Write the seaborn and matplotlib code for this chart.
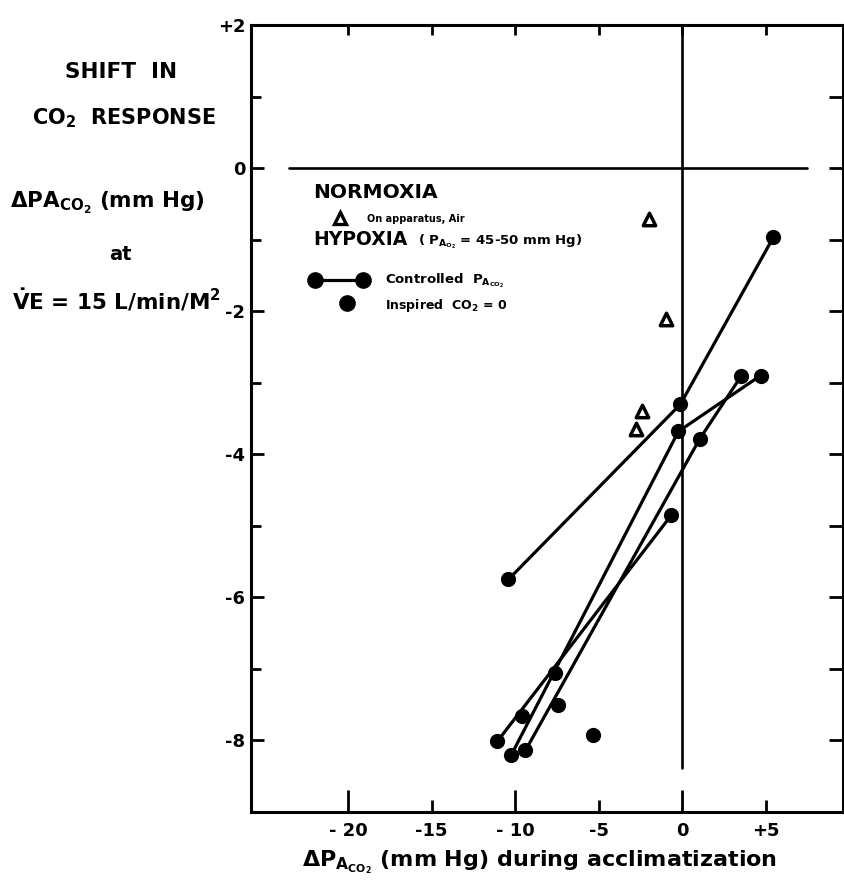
import matplotlib
matplotlib.use("Agg")
import matplotlib.pyplot as plt
import seaborn as sns
import pandas as pd
from matplotlib.ticker import FixedLocator
from matplotlib.lines import Line2D

# ---------------- data ----------------
# Hypoxia, controlled PaCO2: connected points per subject
ctrl_x = [-10.41, -0.12, 5.44, 4.67, -0.24, -10.23, 3.53, 1.02, -9.39, -0.66, -11.06]
ctrl_y = [-5.75, -3.30, -0.965, -2.90, -3.68, -8.20, -2.90, -3.79, -8.14, -4.85, -8.01]
ctrl_subject = ["A", "A", "A", "B", "B", "B", "C", "C", "C", "D", "D"]

# Hypoxia, inspired CO2 = 0 (unconnected points)
insp_x = [-7.60, -7.42, -9.57, -5.32]
insp_y = [-7.06, -7.50, -7.66, -7.93]

# Normoxia, on apparatus, air (triangles)
tri_x = [-2.03, -0.96, -2.39, -2.75]
tri_y = [-0.71, -2.11, -3.40, -3.64]

x_major = [-20, -10, 0]
x_major_labels = ["- 20", "- 10", "0"]
x_minor = [-15, -5, 5]
x_minor_labels = ["-15", "-5", "+5"]
y_major = [2, 0, -2, -4, -6, -8]
y_major_labels = ["+2", "0", "-2", "-4", "-6", "-8"]
y_minor = [1, -1, -3, -5, -7]

# ---------------- style ----------------
sns.set_style("ticks")
plt.rcParams["font.family"] = ["DejaVu Sans"]
plt.rcParams["font.weight"] = "bold"
plt.rcParams["text.color"] = "black"
plt.rcParams["axes.labelcolor"] = "black"
plt.rcParams["xtick.color"] = "black"
plt.rcParams["ytick.color"] = "black"
plt.rcParams["axes.edgecolor"] = "black"
plt.rcParams["mathtext.fontset"] = "custom"
plt.rcParams["mathtext.rm"] = "DejaVu Sans:bold"
plt.rcParams["mathtext.it"] = "DejaVu Sans:bold"
plt.rcParams["mathtext.bf"] = "DejaVu Sans:bold"
plt.rcParams["mathtext.sf"] = "DejaVu Sans:bold"

W, H = 845, 884
fig = plt.figure(figsize=(W / 100, H / 100), dpi=100)
fig.patch.set_facecolor("white")
L, R, T, B = 251, 843, 25, 812
ax = fig.add_axes([L / W, 1 - B / H, (R - L) / W, (B - T) / H])
ax.set_facecolor("white")


def F(px, py):
    return (px / W, 1 - py / H)


ax.set_xlim(-25.8, 9.6)
ax.set_ylim(-9.0, 2.0)

# zero reference lines
ax.axhline(0, xmin=0.064, xmax=0.939, color="black", lw=1.9, zorder=1)
ax.axvline(0, ymin=0.056, ymax=1.0, color="black", lw=1.9, zorder=1)

df_ctrl = pd.DataFrame({"x": ctrl_x, "y": ctrl_y, "subject": ctrl_subject})
sns.lineplot(data=df_ctrl, x="x", y="y", units="subject", estimator=None,
             sort=False, color="black", lw=2.3, ax=ax, zorder=3)
sns.scatterplot(data=df_ctrl, x="x", y="y", color="black", edgecolor="black",
                s=120, linewidth=0, ax=ax, zorder=5)
sns.scatterplot(x=insp_x, y=insp_y, color="black", edgecolor="black",
                s=120, linewidth=0, ax=ax, zorder=5)
sns.scatterplot(x=tri_x, y=tri_y, marker="^", color="white", edgecolor="black",
                s=80, linewidth=2.5, ax=ax, zorder=5)

ax.set_xlabel("")
ax.set_ylabel("")

# spines
for s in ax.spines.values():
    s.set_visible(True)
    s.set_linewidth(2.2)
    s.set_color("black")

# x ticks
ax.xaxis.set_major_locator(FixedLocator(x_major))
ax.xaxis.set_minor_locator(FixedLocator(x_minor))
ax.set_xticklabels(x_major_labels)
ax.set_xticklabels(x_minor_labels, minor=True)
ax.tick_params(axis="x", which="major", direction="in", length=16, width=2,
               pad=7, labelsize=13, bottom=True, top=False, colors="black")
ax.tick_params(axis="x", which="minor", direction="in", length=9, width=2,
               pad=7, labelsize=13, bottom=True, top=False, colors="black")

# y ticks
ax.yaxis.set_major_locator(FixedLocator(y_major))
ax.yaxis.set_minor_locator(FixedLocator(y_minor))
ax.set_yticklabels(y_major_labels)
ax.tick_params(axis="y", which="major", direction="in", length=9, width=2,
               pad=4, labelsize=13, left=True, right=False, colors="black")
ax.tick_params(axis="y", which="minor", direction="in", length=7, width=2,
               left=True, right=False, colors="black")
for lab in ax.get_xticklabels(which="both") + ax.get_yticklabels():
    lab.set_fontweight("bold")

# top and right tick rows
sec_top = ax.secondary_xaxis("top")
sec_top.set_xticks(x_major + x_minor)
sec_top.set_xticklabels([])
sec_top.tick_params(direction="in", length=7, width=2, colors="black")
sec_right = ax.secondary_yaxis("right")
sec_right.set_yticks(y_major + y_minor)
sec_right.set_yticklabels([])
sec_right.tick_params(direction="in", length=10, width=2, colors="black")

# ---------------- left-hand title block ----------------
fig.text(*F(121, 72), "SHIFT  IN", ha="center", va="center", fontsize=15.5)
fig.text(*F(124, 118), "CO$_2$  RESPONSE", ha="center", va="center", fontsize=15)
fig.text(*F(10, 203), "ΔPA$_{\\mathrm{CO_2}}$ (mm Hg)", ha="left", va="center",
         fontsize=15.5)
fig.text(*F(120, 255), "at", ha="center", va="center", fontsize=14)
fig.text(*F(12, 300), "$\\dot{\\mathrm{V}}$E = 15 L/min/M$^2$", ha="left",
         va="center", fontsize=15.5)

# ---------------- x label ----------------
fig.text(*F(540, 862), "ΔP$_{\\mathrm{A_{CO_2}}}$ (mm Hg) during acclimatization",
         ha="center", va="center", fontsize=16)

# ---------------- in-plot key ----------------
fig.text(*F(313, 193), "NORMOXIA", ha="left", va="center", fontsize=14.5)
fig.add_artist(Line2D([F(340, 218)[0]], [F(340, 218)[1]], marker="^", ms=8,
                      mfc="white", mec="black", mew=2.4, ls="none"))
fig.text(*F(367, 219), "On apparatus, Air", ha="left", va="center", fontsize=7)
fig.text(*F(313, 240), "HYPOXIA", ha="left", va="center", fontsize=13.5)
fig.text(*F(418, 242), "( P$_{\\mathrm{A_{O_2}}}$ = 45-50 mm Hg)", ha="left",
         va="center", fontsize=9.5)
a, b = F(315, 280), F(363, 280)
fig.add_artist(Line2D([a[0], b[0]], [a[1], b[1]], color="black", lw=2.3,
                      marker="o", ms=11, mfc="black", mec="black"))
fig.text(*F(385, 281), "Controlled  P$_{\\mathrm{A_{CO_2}}}$", ha="left",
         va="center", fontsize=9.5)
c = F(347, 303)
fig.add_artist(Line2D([c[0]], [c[1]], marker="o", ms=11, mfc="black",
                      mec="black", ls="none"))
fig.text(*F(385, 306), "Inspired  CO$_2$ = 0", ha="left", va="center", fontsize=9)

fig.savefig("out.png", dpi=100, facecolor="white")
